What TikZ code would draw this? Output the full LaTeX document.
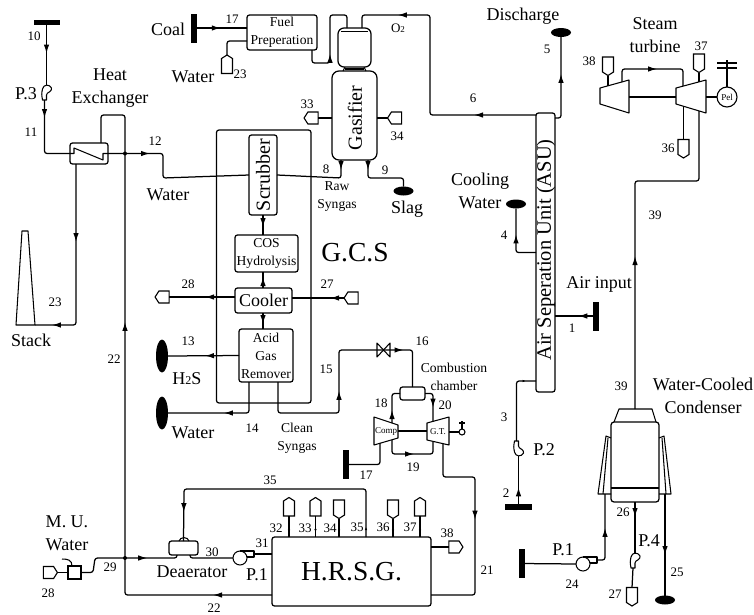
\documentclass[tikz,border=0pt]{standalone}
\usepackage{fontspec}
\setmainfont{Liberation Serif}
\usetikzlibrary{shapes.geometric, shapes.symbols, arrows.meta, positioning, calc, decorations.markings}

\tikzset{
    pipe/.style={line width=1.25pt, rounded corners=2.5pt, line join=round},
    thin pipe/.style={line width=1.05pt, line join=round},
    flow/.style={postaction={decorate, decoration={markings, mark=at position #1 with {\arrow{Latex[length=9pt,width=5.5pt]}}}}},
    tinyflow/.style={postaction={decorate, decoration={markings, mark=at position #1 with {\arrow{Latex[length=3pt,width=2.5pt]}}}}},
    unit/.style={draw, line width=1.25pt, rounded corners=2.5pt, inner sep=0pt, outer sep=0pt},
    bar/.style={fill=black, inner sep=0pt, outer sep=0pt},
    oval/.style={ellipse, fill=black, inner sep=0pt, outer sep=0pt},
    term/.style={signal, draw, line width=1.1pt, inner sep=0pt, outer sep=0pt, signal pointer angle=115},
    termv/.style={term, minimum width=11pt, minimum height=15pt},
    termh/.style={term, minimum width=14pt, minimum height=12pt},
    num/.style={font=\fontsize{13}{15}\selectfont, inner sep=0pt},
    lab/.style={font=\fontsize{18}{23.5}\selectfont, align=center, inner sep=0pt},
    slab/.style={font=\fontsize{13.6}{18}\selectfont, align=center, inner sep=0pt},
    tiny lab/.style={font=\fontsize{9}{10}\selectfont, inner sep=0pt},
    vpump/.pic={
        \draw[thin pipe] (-4,8) .. controls (-5,2) .. (-4,-3) .. controls (-3,-8) and (3,-8) .. (5,-4)
            .. controls (6,0) and (0,0) .. (0,3) -- (0,8) -- cycle;
        \coordinate (-in) at (0,-7);
        \coordinate (-out) at (-2,8);
    },
    hpump/.pic={
        \draw[thin pipe] (0,0) circle (7);
        \draw[thin pipe] (0,-7) -- (14,-7) -- (14,-1) -- (6.9,-1);
        \coordinate (-in) at (-7,0);
        \coordinate (-out) at (14,-4);
    }
}

\begin{document}
\begin{tikzpicture}[x=1pt,y=-1pt]
    \useasboundingbox (0,0) rectangle (754,614);

    % Gas cleaning block
    \node[unit, minimum width=94.5pt, minimum height=273pt] (gcs) at (263.75,266.5) {};
    \node[unit, minimum width=28pt, minimum height=80pt] (scrubber) at (263,175) {};
    \node[lab, font=\fontsize{20}{22}\selectfont, rotate=90] (scrubbertxt) at (scrubber) {Scrubber};
    \node[unit, slab, minimum width=63pt, minimum height=37pt] (cos) at (266.5,253.5) {COS\\Hydrolysis};
    \node[unit, lab, minimum width=57pt, minimum height=25pt] (cooler) at (263.5,300.5) {Cooler};
    \node[unit, slab, minimum width=54pt, minimum height=53pt] (acid) at (266,355.5) {Acid\\Gas\\Remover};

    % Gasifier and fuel preparation
    \node[unit, slab, minimum width=70pt, minimum height=35pt] (fuel) at (282,32.5) {Fuel\\Preperation};
    \node[unit, rounded corners=7pt, minimum width=45pt, minimum height=89pt] (gasifier) at (354.5,115.5) {};
    \node[lab, font=\fontsize{20}{22}\selectfont, rotate=90] (gasifiertxt) at (355,118) {Gasifier};
    \node[unit, rounded corners=6pt, minimum width=33pt, minimum height=39pt] (vessel) at (354.5,47.5) {};
    \draw[thin pipe] (341,31.5) -- (368,31.5);
    \draw[thin pipe] (345,67) -- (343,71);
    \draw[thin pipe] (364,67) -- (366,71);
    \draw[line width=2pt] (345,69) -- (364,69);

    % Other equipment
    \node[unit, minimum width=38pt, minimum height=21pt] (hx) at (89,153.5) {};
    \node[unit, minimum width=19pt, minimum height=279pt] (asu) at (545.5,252.5) {};
    \node[lab, font=\fontsize{20.5}{22}\selectfont, rotate=90] (asutxt) at (546,250) {Air Seperation Unit (ASU)};
    \node[unit, minimum width=159pt, minimum height=69pt, font=\fontsize{27.5}{30}\selectfont] (hrsg) at (351.5,571.5) {H.R.S.G.};
    \node[unit, minimum width=29pt, minimum height=14pt] (deaerator) at (183.5,548) {};
    \node[unit, minimum width=25pt, minimum height=13pt] (combustor) at (412.5,393.5) {};
    \node[unit, rounded corners=0pt, minimum width=13pt, minimum height=13pt] (mubox) at (74.5,572.5) {};
    \node[unit, rounded corners=3pt, minimum width=48pt, minimum height=80pt] (condenser) at (635,462) {};
    \node[draw, circle, line width=1.1pt, minimum size=20pt, inner sep=0pt, outer sep=0pt, tiny lab] (pel) at (727,97) {Pel};

    % Sources and sinks
    \node[bar, minimum width=26pt, minimum height=5pt] (bar10) at (46.5,22) {};
    \node[bar, minimum width=5.5pt, minimum height=29pt] (barcoal) at (194,28) {};
    \node[bar, minimum width=5.5pt, minimum height=29pt] (bar17) at (346,464.5) {};
    \node[bar, minimum width=5.5pt, minimum height=29pt] (bar1) at (596,316) {};
    \node[bar, minimum width=27pt, minimum height=5.5pt] (bar2) at (518.5,507) {};
    \node[bar, minimum width=5.5pt, minimum height=29pt] (bar24) at (522,563.5) {};
    \node[oval, minimum width=20pt, minimum height=9pt] (slag) at (403.5,191) {};
    \node[oval, minimum width=20pt, minimum height=9pt] (discharge) at (561,32.5) {};
    \node[oval, minimum width=20pt, minimum height=9pt] (cooling) at (516,204) {};
    \node[oval, minimum width=20pt, minimum height=9pt] (sink25) at (665,600) {};
    \node[oval, minimum width=12pt, minimum height=33pt] (hsink) at (162,356) {};
    \node[oval, minimum width=12pt, minimum height=33pt] (wsink) at (162,413) {};

    % Terminals
    \node[termv, signal to=north] (twater) at (227,66) {};
    \node[termh, signal to=west] (tgas33) at (313,118) {};
    \node[termh, signal to=west] (tgas34) at (396.5,118) {};
    \node[termh, signal to=west] (t28) at (164,297) {};
    \node[termh, signal to=west] (t27) at (353,298) {};
    \node[termv, signal to=north] (t32) at (289,508.5) {};
    \node[termv, signal to=north] (t33) at (315.5,508.5) {};
    \node[termv, signal to=south] (t34) at (339,507.5) {};
    \node[termv, signal to=south] (t36) at (393,507.5) {};
    \node[termv, signal to=north] (t37) at (420,508.5) {};
    \node[termh, signal to=east] (t38) at (454,547) {};
    \node[termh, signal to=east] (tmu) at (48.5,572.5) {};
    \node[termv, signal to=south] (tst38) at (608,64.5) {};
    \node[termv, signal to=south] (tst37) at (699,61.5) {};
    \node[termv, signal to=south] (tst36) at (683.5,147) {};
    \node[termv, signal to=south] (tcond27) at (632,595) {};

    % Pumps
    \pic (p3) at (46.5,92) {vpump};
    \pic[yscale=-1] (p2) at (518.5,449) {vpump};
    \pic (p4) at (635,560) {vpump};
    \pic (p1a) at (240,558) {hpump};
    \pic (p1b) at (583,564) {hpump};

    % Stack
    \draw[thin pipe] (16,325) -- (22,231) -- (28,231) -- (35,325) -- cycle;
    \coordinate (stackin) at (35,325);

    % Gas turbine set
    \draw[thin pipe] (374,417) -- (398,425) -- (398,438) -- (374,445) -- cycle;
    \draw[thin pipe] (427,423) -- (449,417) -- (449,445) -- (427,440) -- cycle;
    \node[tiny lab] (comptxt) at (386,431) {Comp};
    \node[tiny lab] (gttxt) at (438,432) {G.T.};
    \coordinate (compout) at (398,431);
    \coordinate (gtin) at (427,431);
    \coordinate (gtout) at (449,432);
    \node[draw, circle, line width=1.05pt, minimum size=6pt, inner sep=0pt, outer sep=0pt] (gtload) at (462,432) {};
    \coordinate (gtload top) at (462,421);
    \draw[thin pipe] (compout) -- (gtin);
    \draw[thin pipe] (gtout) -- (gtload);
    \draw[thin pipe] (gtload) -- (gtload top);
    \draw[line width=2pt] (459,423) -- (465,423);

    % Steam turbine set
    \draw[thin pipe] (600,88) -- (629,80) -- (629,113) -- (600,104) -- cycle;
    \draw[thin pipe] (676,88) -- (706,80) -- (706,113) -- (676,104) -- cycle;
    \coordinate (hpout) at (629,97);
    \coordinate (lpin) at (676,97);
    \coordinate (lpout) at (706,97);
    \coordinate (pelmast) at (727,60);
    \draw[thin pipe] (hpout) -- (lpin);
    \draw[thin pipe] (lpout) -- (pel);
    \draw[thin pipe] (pel) -- (pelmast);
    \draw[thin pipe] (717,63) -- (737,63);
    \draw[thin pipe] (717,68) -- (737,68);

    % Condenser
    \draw[thin pipe] (614,422) -- (619,409) -- (652,409) -- (656,422);
    \draw[thin pipe] (611,488) -- (659,488);
    \draw[thin pipe] (611,438) -- (606,436) -- (598,494) -- (611,494);
    \draw[thin pipe] (608,438) -- (603,494);
    \draw[thin pipe] (659,438) -- (664,436) -- (671,494) -- (659,494);
    \draw[thin pipe] (662,438) -- (666,494);

    % Valve and heat exchanger coil
    \coordinate (valve) at (383.5,350);
    \draw[thin pipe] (377,343) -- (390,357) -- (390,343) -- (377,357) -- cycle;
    \draw[thin pipe] (hx.west) -- (74,153.5) -- (74,148) -- (103,160) -- (103,153.5) -- (hx.east);

    % Water and flue side, left
    \draw[pipe, flow=29pt] (bar10) -- (p3-in);
    \draw[pipe, flow=18pt] (p3-out) |- (hx.west);
    \draw[pipe, flow=42pt] (hx.east) -- (163,153.5) -- (163,178) -- (scrubber.west);
    \draw[pipe, flow=78pt, flow=184pt] ([xshift=-13pt]hx.south) |- (stackin);
    \coordinate (hrsgret) at (272,595);
    \draw[pipe, flow=59pt, flow=419pt] (hrsgret) -- (125,595) -- (125,115) -- (101,115) -- (101,143);
    \fill (125,153.5) circle (2);
    \fill (125,558) circle (2);

    % Coal and gasifier
    \draw[pipe, flow=24pt] (barcoal) -- (barcoal -| fuel.west);
    \coordinate (fuelwater) at (247,41);
    \draw[pipe] (twater.north) -- (227,41) -- (fuelwater);
    \draw[pipe, flow=38pt] (312,50) -- (312,63) -- (330,63) -- (330,15) -- (347,15) -- (347,28);
    \draw[pipe, flow=62pt, flow=236pt] ([yshift=-2pt]asu.north west) -- (430,115) -- (430,15) -- (362,15) -- (362,28);
    \draw[pipe] (tgas33.east) -- (tgas33.east -| gasifier.west);
    \draw[pipe] (tgas34.west -| gasifier.east) -- (tgas34.west);
    \draw[pipe, flow=10pt] ([xshift=-13.5pt]gasifier.south) -- (341,178) -- (scrubber.east);
    \draw[pipe, flow=10pt] ([xshift=13.5pt]gasifier.south) -- (368,178) -- (403.5,178) -- (slag.north);

    % Gas cleaning train
    \draw[pipe, flow=12pt] (scrubber.south) -- (scrubber.south |- cos.north);
    \draw[pipe, flow=11pt] (scrubber.south |- cooler.north) -- (scrubber.south |- cos.south);
    \draw[pipe, flow=11pt] (scrubber.south |- cooler.south) -- (scrubber.south |- acid.north);
    \draw[pipe, flow=30pt] (t28.east -| cooler.west) -- (t28.east);
    \draw[pipe, flow=14pt] (t27.west) -- (t27.west -| cooler.east);
    \draw[pipe, flow=34pt] (acid.west) -- (hsink.east);
    \draw[pipe, flow=55pt] ([xshift=-17pt]acid.south) |- (wsink.east);
    \draw[pipe, flow=112pt] ([xshift=12pt]acid.south) -- (278,413) -- (339,413) -- (339,350) -- (valve);
    \draw[pipe, flow=20pt] (valve) -- (412.5,350) -- (combustor.north);

    % Gas turbine connections
    \draw[pipe, flow=13pt] (392,423) -- (392,393.5) -- (combustor.west);
    \draw[pipe, flow=21pt] (combustor.east) -- (433,393.5) -- (433,421.5);
    \draw[pipe, flow=35pt] (392,440) -- (392,454) -- (433,454) -- (433,441.5);
    \draw[pipe] (bar17) -- (380,464.5) -- (380,443);
    \draw[pipe, flow=106pt] (443,443.5) -- (443,477) -- (475,477) -- (475,595) -- (hrsg.east |- 475,595);

    % H.R.S.G. connections
    \foreach \tname in {t32,t33}{
        \draw[pipe, tinyflow=10pt] (\tname.south |- hrsg.north) -- (\tname.south);
    }
    \draw[pipe, tinyflow=10pt] (t34.south |- hrsg.north) -- (t34.south);
    \draw[pipe, tinyflow=10pt] (t36.north |- hrsg.north) -- (t36.south);
    \draw[pipe, tinyflow=10pt] (t37.south |- hrsg.north) -- (t37.south);
    \draw[pipe] (t38.west -| hrsg.east) -- (t38.west);
    \draw[pipe, flow=251pt, tinyflow=10pt] (366,537) -- (366,489) -- (184,489) -- (deaerator.north);
    \draw[thin pipe] (179,541) .. controls (180,536.5) and (188,536.5) .. (189,541);

    % Make-up water and deaerator
    \draw[pipe] (tmu.east) -- (mubox.west);
    \draw[thin pipe] (62,559) .. controls (68,559) and (72,560) .. (72,566);
    \draw[pipe, flow=77pt] (mubox.east) -- (93,572.5) -- (95,558) -- (177,558) -- (177,555);
    \draw[pipe] (190,555) -- (190,558) -- (p1a-in);
    \draw[pipe] (p1a-out) -- (p1a-out -| hrsg.west);

    % Air separation unit
    \draw[pipe, flow=49pt] ([yshift=-5pt]asu.north east) -- (561,118) -- (discharge.south);
    \draw[pipe, flow=37pt] (asu.west) -- (516,252.5) -- (cooling.south);
    \draw[pipe, flow=15pt] (bar1) -- (bar1 -| asu.east);
    \draw[pipe, flow=17pt] (bar2) -- (p2-in);
    \draw[pipe, tinyflow=68pt] (p2-out) -- (516.5,381) -- (536,381);

    % Steam cycle
    \coordinate (turbcross) at (622,82);
    \draw[pipe, flow=47pt] (turbcross) -- (622,69) -- (683,69) -- (683,86);
    \draw[pipe] (608,86) -- (tst38.south);
    \draw[pipe] (699,82) -- (tst37.south);
    \draw[pipe] (683.5,106) -- (tst36.north);
    \draw[pipe, flow=153pt] (635,409) -- (635,181) -- (699,181) -- (699,111);
    \draw[pipe, flow=15pt] (condenser.south) -- (p4-in);
    \draw[pipe] (p4-out) -- (tcond27.north);
    \draw[pipe, flow=61pt] (665,494) -- (sink25.north);
    \draw[pipe] (bar24) -- (p1b-in);
    \draw[pipe, flow=39pt] (p1b-out) -- (605,560) -- (605,494);

    % Labels
    \node[lab] (txtheat) at (110,88) {Heat\\Exchanger};
    \node[lab] (txtp3) at (26,94) {P.3};
    \node[lab] (txtcoal) at (168,29) {Coal};
    \node[lab] (txtwater) at (193,77) {Water};
    \node[lab] (txtwater2) at (168,195) {Water};
    \node[lab] (txtstack) at (31,340) {Stack};
    \node[lab] (txth2s) at (187,379) {H{\fontsize{12}{14}\selectfont 2}S};
    \node[lab] (txtwater3) at (193,433) {Water};
    \node[lab] (txtmu) at (67,533) {M. U.\\Water};
    \node[lab] (txtdeaerator) at (192,572) {Deaerator};
    \node[lab] (txtp1a) at (257,575) {P.1};
    \node[slab] (txtraw) at (337,197) {Raw\\Syngas};
    \node[slab] (txtclean) at (297,438) {Clean\\Syngas};
    \node[lab, font=\fontsize{27.5}{30}\selectfont] (txtgcs) at (355,253) {G.C.S};
    \node[lab] (txtslag) at (407,209) {Slag};
    \node[lab] (txtcooling) at (480,191) {Cooling\\Water};
    \node[lab] (txtdischarge) at (523,16) {Discharge};
    \node[lab] (txtsteam) at (655,35) {Steam\\turbine};
    \node[lab] (txtair) at (599,284) {Air input};
    \node[lab] (txtp2) at (544,450) {P.2};
    \node[lab] (txtp1b) at (563,550) {P.1};
    \node[lab] (txtp4) at (649,541) {P.4};
    \node[lab] (txtcond) at (703,396) {Water-Cooled\\Condenser};
    \node[slab] (txtchamber) at (454,376.5) {Combustion\\chamber};
    \node[num] (txto2) at (398,28) {O{\fontsize{9}{10}\selectfont 2}};

    % Stream numbers
    \foreach \nx/\ny/\lbl [count=\k] in {34/36/10, 31/132/11, 155/141/12, 232/19/17, 240/74/23, 307/104/33,
        326/169/8, 385/170/9, 397/136/34, 473/98/6, 547/49/5, 504/235/4, 572/328/1, 504/417/3, 506/493/2,
        188/284/28, 327/284/27, 55/302/23, 114/359/22, 188/341/13, 252/428/14, 326/369/15, 422/341/16,
        381/403/18, 445/405/20, 413/467/19, 366/475/17, 487/570/21, 270/480/35, 276/528/32, 305/528/33,
        330/528/34, 357/527/35, 383/527/36, 410/527/37, 447/533/38, 212/552/30, 262/543/31, 110/567/29,
        48/593/28, 214/608/22, 589/61/38, 701/46/37, 668/148/36, 655/215/39, 621/386/39, 623/512/26,
        615/594/27, 677/572/25, 572/584/24}{
        \node[num] (num\k) at (\nx,\ny) {\lbl};
    }
\end{tikzpicture}
\end{document}
